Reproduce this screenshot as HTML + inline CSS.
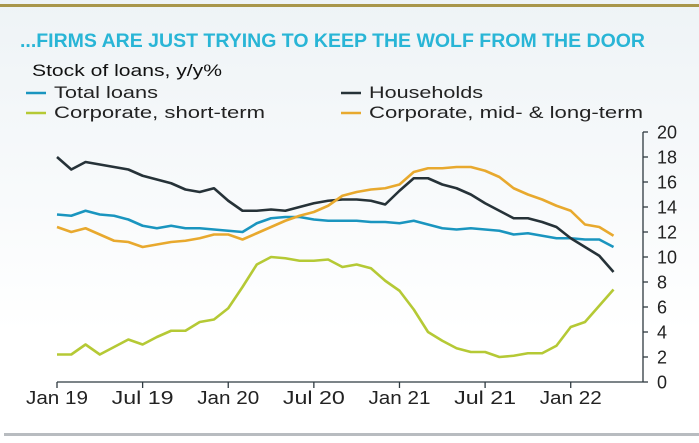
<!DOCTYPE html>
<html><head><meta charset="utf-8"><style>
html,body{margin:0;padding:0}
body{width:699px;height:443px;overflow:hidden;background:linear-gradient(#eef3f6,#ffffff 75%);font-family:"Liberation Sans",sans-serif;position:relative}
</style></head><body>
<div style="position:absolute;left:0;top:4px;width:699px;height:3px;background:#a8964a"></div>
<div style="position:absolute;left:4px;top:433px;width:695px;height:3px;background:#b8bcc0"></div>
<svg id="c" width="699" height="443" style="position:absolute;left:0;top:0" font-family="Liberation Sans, sans-serif">
<text x="20" y="47" font-size="19" font-weight="bold" fill="#29b5d6" textLength="625" lengthAdjust="spacingAndGlyphs">...FIRMS ARE JUST TRYING TO KEEP THE WOLF FROM THE DOOR</text>
<text x="32" y="76" font-size="17" fill="#111" textLength="190" lengthAdjust="spacingAndGlyphs">Stock of loans, y/y%</text>
</svg>
<script>
const xTickLabels=["Jan 19","Jul 19","Jan 20","Jul 20","Jan 21","Jul 21","Jan 22"];
const yTicks=[0,2,4,6,8,10,12,14,16,18,20];
const totalLoans=[13.4,13.3,13.7,13.4,13.3,13.0,12.5,12.3,12.5,12.3,12.3,12.2,12.1,12.0,12.7,13.1,13.2,13.2,13.0,12.9,12.9,12.9,12.8,12.8,12.7,12.9,12.6,12.3,12.2,12.3,12.2,12.1,11.8,11.9,11.7,11.5,11.5,11.4,11.4,10.8];
const households=[18,17.0,17.6,17.4,17.2,17.0,16.5,16.2,15.9,15.4,15.2,15.5,14.5,13.7,13.7,13.8,13.7,14.0,14.3,14.5,14.6,14.6,14.5,14.2,15.3,16.3,16.3,15.8,15.5,15.0,14.3,13.7,13.1,13.1,12.8,12.4,11.5,10.8,10.1,8.8];
const corpShort=[2.2,2.2,3.0,2.2,2.8,3.4,3.0,3.6,4.1,4.1,4.8,5.0,5.9,7.6,9.4,10.0,9.9,9.7,9.7,9.8,9.2,9.4,9.1,8.1,7.3,5.8,4.0,3.3,2.7,2.4,2.4,2.0,2.1,2.3,2.3,2.9,4.4,4.8,6.1,7.4];
const corpLong=[12.4,12.0,12.3,11.8,11.3,11.2,10.8,11.0,11.2,11.3,11.5,11.8,11.8,11.4,11.9,12.4,12.9,13.3,13.6,14.1,14.9,15.2,15.4,15.5,15.8,16.8,17.1,17.1,17.2,17.2,16.9,16.4,15.5,15.0,14.6,14.1,13.7,12.6,12.4,11.7];
const seriesNames=["Total loans","Households","Corporate, short-term","Corporate, mid- & long-term"];
const ns="http://www.w3.org/2000/svg";
const svg=document.getElementById('c');
const x=i=>57+i*14.27;
const y=v=>382-v*12.5;
function mk(t,a){const e=document.createElementNS(ns,t);for(const k in a)e.setAttribute(k,a[k]);svg.appendChild(e);return e;}
let ax=mk('line',{x1:57,y1:382,x2:643,y2:382,stroke:'#2f3a40','stroke-width':1.3});


let ay=mk('line',{x1:643,y1:132,x2:643,y2:382,stroke:'#2f3a40','stroke-width':1.3});


yTicks.forEach(v=>{
  const tk=mk('line',{x1:643,y1:y(v),x2:648,y2:y(v),stroke:'#2f3a40','stroke-width':1.3});
  
  
  const t=mk('text',{x:657,y:y(v)+6.5,'font-size':18,fill:'#222'});t.textContent=v;
  
  
});
xTickLabels.forEach((l,k)=>{
  const xi=x(k*6);
  const tk=mk('line',{x1:xi,y1:382,x2:xi,y2:388,stroke:'#2f3a40','stroke-width':1.3});
  
  
  const t=mk('text',{x:xi,y:404,'font-size':18,fill:'#222','text-anchor':'middle',textLength:62,lengthAdjust:'spacingAndGlyphs'});t.textContent=l;
  
  
});
const series=[[totalLoans,'#1a95bf','total-loans-line'],[households,'#263238','households-line'],[corpShort,'#b5c935','corporate-short-term-line'],[corpLong,'#e8a92e','corporate-long-term-line']];
series.forEach(([d,c,n])=>{
  const p=mk('polyline',{points:d.map((v,i)=>x(i)+','+y(v)).join(' '),fill:'none',stroke:c,'stroke-width':2.6,'stroke-linejoin':'round'});
  
  
});
const lg=[[26,98,104],[341,98,114],[26,118,211],[341,118,274]];
const lc=['#1a95bf','#263238','#b5c935','#e8a92e'];
seriesNames.forEach((s,k)=>{
  const [lx,ly,w]=lg[k];
  const m=mk('line',{x1:lx,y1:ly-5,x2:lx+20,y2:ly-5,stroke:lc[k],'stroke-width':2.5});
  
  
  const t=mk('text',{x:lx+28,y:ly,'font-size':17,fill:'#222',textLength:w,lengthAdjust:'spacingAndGlyphs'});t.textContent=s;
  
  
});
</script>
</body></html>
